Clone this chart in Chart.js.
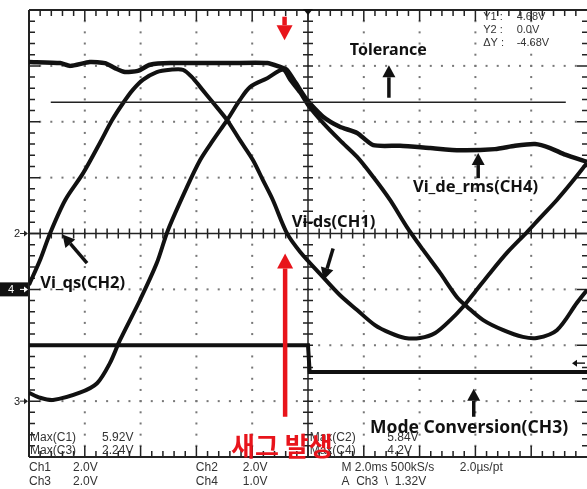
<!DOCTYPE html>
<html>
<head>
<meta charset="utf-8">
<script src="https://cdn.jsdelivr.net/npm/chart.js@4/dist/chart.umd.min.js"></script>
<style>
  html, body { margin: 0; padding: 0; background: #fff; }
  canvas { display: block; }
</style>
</head>
<body>
<canvas id="scope" width="587" height="489"></canvas>
<script>
/* Scope capture: traces in screen divisions (x 0..10, y 0..8, bottom = 0) */

const viQs = [ // CH2
  [0, 3.08], [0.2, 3.53], [0.38, 4.01], [0.65, 4.6], [0.97, 5.08], [1.27, 5.62],
  [1.49, 6.03], [1.69, 6.34], [1.86, 6.57], [2.04, 6.75], [2.29, 6.89], [2.53, 6.93],
  [2.76, 6.93], [2.92, 6.8], [3.07, 6.62], [3.3, 6.34], [3.55, 6.03], [3.78, 5.67],
  [4.01, 5.32], [4.19, 4.96], [4.37, 4.6], [4.62, 4.01], [4.86, 3.67], [5.27, 3.22],
  [5.57, 2.9], [5.88, 2.63], [6.2, 2.36], [6.47, 2.22], [6.74, 2.13], [7.01, 2.13],
  [7.28, 2.22], [7.55, 2.45], [7.78, 2.69], [7.99, 2.95], [8.26, 3.29], [8.58, 3.67],
  [8.93, 4.03], [9.16, 4.28], [9.46, 4.6], [9.73, 4.92], [10, 5.26],
];

const viDs = [ // CH1
  [0, 1.15], [0.2, 1.06], [0.43, 1.02], [0.91, 1.15], [1.22, 1.32], [1.45, 1.68],
  [1.63, 2.09], [1.99, 2.81], [2.29, 3.47], [2.49, 4.06], [2.83, 4.83], [3.07, 5.32],
  [3.3, 5.67], [3.55, 6.03], [3.78, 6.39], [3.96, 6.62], [4.27, 6.78], [4.55, 6.93],
  [4.68, 6.75], [4.86, 6.52], [5.0, 6.3], [5.27, 5.98], [5.57, 5.67], [5.88, 5.37],
  [6.17, 5.01], [6.47, 4.6], [6.77, 4.12], [7.06, 3.71], [7.37, 3.29], [7.67, 2.86],
  [7.85, 2.69], [8.14, 2.45], [8.5, 2.27], [8.85, 2.15], [9.1, 2.13], [9.46, 2.27],
  [9.82, 2.76], [10, 2.99],
];

const viDeRms = [ // CH4
  [0, 7.07], [0.56, 7.05], [0.74, 7.0], [1.09, 7.07], [1.36, 7.05], [1.54, 6.96],
  [1.72, 6.89], [1.95, 6.91], [2.17, 7.02], [2.53, 7.05], [3.6, 7.05], [4.27, 7.05],
  [4.5, 6.98], [4.62, 6.93], [4.77, 6.71], [4.98, 6.39], [5.27, 6.09], [5.57, 5.91],
  [5.88, 5.8], [6.17, 5.58], [6.65, 5.57], [7.19, 5.53], [7.72, 5.49], [8.35, 5.51],
  [8.71, 5.57], [9.07, 5.6], [9.34, 5.53], [9.61, 5.41], [10, 5.28],
];

const modeConv = [ // CH3
  [0, 2.0], [5.0, 2.0], [5.03, 1.52], [10, 1.52],
];

const tolerance = [[0.39, 6.35], [9.62, 6.35]];

// ground markers on the left edge
const groundMarks = [
  { label: '2', y: 4 },
  { label: '4', y: 3, boxed: true },
  { label: '3', y: 1 },
];

// annotation texts (positions in divisions)
const notes = [
  { text: 'Tolerance', x: 5.75, y: 7.28, size: 16 },
  { text: 'Vi_de_rms(CH4)', x: 6.88, y: 4.83, size: 16.5 },
  { text: 'Vi-ds(CH1)', x: 4.71, y: 4.2, size: 16.5 },
  { text: 'Vi_qs(CH2)', x: 0.2, y: 3.1, size: 16.5 },
  { text: 'Mode Conversion(CH3)', x: 6.11, y: 0.52, size: 17.5 },
];

const arrows = [
  { from: [6.45, 6.43], to: [6.45, 7.01], color: '#111' },
  { from: [8.05, 4.99], to: [8.05, 5.44], color: '#111' },
  { from: [5.45, 3.73], to: [5.28, 3.17], color: '#111' },
  { from: [1.04, 3.47], to: [0.6, 3.98], color: '#111' },
  { from: [7.97, 0.72], to: [7.97, 1.22], color: '#111' },
  { from: [4.58, 7.88], to: [4.58, 7.46], color: '#e8141b', big: true },
  { from: [4.59, 0.72], to: [4.59, 3.64], color: '#e8141b', big: true },
];

const sagText = { text: '새그 발생', x: 3.62, y: 0.2 };

const cursorRows = [
  ['Y1 :', '4.68V'],
  ['Y2 :', '0.0V'],
  ['ΔY :', '-4.68V'],
];

const maxRows = [
  { x: 0.02, vx: 1.31, rows: [['Max(C1)', '5.92V'], ['Max(C3)', '2.24V']] },
  { x: 5.03, vx: 6.42, rows: [['Max(C2)', '5.84V'], ['Max(C4)', '4.2V']] },
];

const footer = [
  { x: 0.0, lines: ['Ch1', 'Ch3'] },
  { x: 0.79, lines: ['2.0V', '2.0V'] },
  { x: 2.99, lines: ['Ch2', 'Ch4'] },
  { x: 3.83, lines: ['2.0V', '1.0V'] },
  { x: 5.6, lines: ['M 2.0ms 500kS/s', 'A  Ch3  \\  1.32V'] },
  { x: 7.72, lines: ['2.0\u00b5s/pt', ''] },
];

function toXY(pts) {
  return pts.map(p => ({ x: p[0], y: p[1] }));
}

function drawArrow(ctx, x1, y1, x2, y2, color, big) {
  const ang = Math.atan2(y2 - y1, x2 - x1);
  const headLen = big ? 15 : 12;
  const headW = big ? 8 : 6.5;
  const bx = x2 - Math.cos(ang) * headLen;
  const by = y2 - Math.sin(ang) * headLen;
  ctx.save();
  ctx.strokeStyle = color;
  ctx.fillStyle = color;
  ctx.lineWidth = big ? 4.5 : 3.5;
  ctx.beginPath();
  ctx.moveTo(x1, y1);
  ctx.lineTo(bx, by);
  ctx.stroke();
  ctx.beginPath();
  ctx.moveTo(x2, y2);
  ctx.lineTo(bx + Math.sin(ang) * headW, by - Math.cos(ang) * headW);
  ctx.lineTo(bx - Math.sin(ang) * headW, by + Math.cos(ang) * headW);
  ctx.closePath();
  ctx.fill();
  ctx.restore();
}

const scopeGrid = {
  id: 'scopeGrid',
  beforeDatasetsDraw(chart) {
    const ctx = chart.ctx;
    const xs = chart.scales.x, ys = chart.scales.y;
    const { left, right, top, bottom } = chart.chartArea;
    ctx.save();

    // dotted division lines
    ctx.fillStyle = '#777';
    for (let i = 1; i < 10; i++) {
      if (i === 5) continue;
      const px = xs.getPixelForValue(i);
      for (let j = 1; j < 40; j++) {
        ctx.fillRect(px - 1, ys.getPixelForValue(j / 5) - 1, 2, 2);
      }
    }
    for (let i = 1; i < 8; i++) {
      if (i === 4) continue;
      const py = ys.getPixelForValue(i);
      for (let j = 1; j < 50; j++) {
        ctx.fillRect(xs.getPixelForValue(j / 5) - 1, py - 1, 2, 2);
      }
    }

    ctx.strokeStyle = '#222';
    // center cross
    const cx = xs.getPixelForValue(5), cy = ys.getPixelForValue(4);
    ctx.lineWidth = 1.5;
    ctx.beginPath();
    ctx.moveTo(cx, top); ctx.lineTo(cx, bottom);
    ctx.moveTo(left, cy); ctx.lineTo(right, cy);
    for (let j = 1; j < 50; j++) {
      const px = xs.getPixelForValue(j / 5);
      ctx.moveTo(px, cy - 5); ctx.lineTo(px, cy + 5);
    }
    for (let j = 1; j < 40; j++) {
      const py = ys.getPixelForValue(j / 5);
      ctx.moveTo(cx - 5, py); ctx.lineTo(cx + 5, py);
    }
    ctx.stroke();

    // frame with inward ticks
    ctx.lineWidth = 2;
    ctx.beginPath();
    ctx.moveTo(left, top); ctx.lineTo(right, top);
    ctx.moveTo(left, top); ctx.lineTo(left, bottom);
    ctx.moveTo(left, bottom); ctx.lineTo(right, bottom);
    ctx.stroke();
    ctx.lineWidth = 1.5;
    ctx.beginPath();
    for (let j = 1; j < 50; j++) {
      const px = xs.getPixelForValue(j / 5);
      const len = j % 5 === 0 ? 11 : 6;
      ctx.moveTo(px, top); ctx.lineTo(px, top + len);
      ctx.moveTo(px, bottom); ctx.lineTo(px, bottom - len);
    }
    for (let j = 1; j < 40; j++) {
      const py = ys.getPixelForValue(j / 5);
      const len = j % 5 === 0 ? 11 : 6;
      ctx.moveTo(left, py); ctx.lineTo(left + len, py);
      ctx.moveTo(right + 1, py); ctx.lineTo(right + 1 - len, py);
    }
    ctx.stroke();

    // trigger marker at top centre
    ctx.fillStyle = '#111';
    ctx.beginPath();
    ctx.moveTo(cx - 5, top - 1); ctx.lineTo(cx + 5, top - 1); ctx.lineTo(cx, top + 5);
    ctx.closePath();
    ctx.fill();

    // trigger level marker on right edge
    const ty = ys.getPixelForValue(1.68);
    ctx.lineWidth = 1.5;
    ctx.beginPath();
    ctx.moveTo(right - 2, ty); ctx.lineTo(right - 13, ty);
    ctx.stroke();
    ctx.beginPath();
    ctx.moveTo(right - 15, ty); ctx.lineTo(right - 10, ty - 3.5); ctx.lineTo(right - 10, ty + 3.5);
    ctx.closePath();
    ctx.fill();

    // channel ground markers
    ctx.font = '11px "Liberation Sans"';
    ctx.textBaseline = 'middle';
    groundMarks.forEach(m => {
      const py = ys.getPixelForValue(m.y);
      if (m.boxed) {
        ctx.fillStyle = '#111';
        ctx.fillRect(0, py - 7, left - 1, 14);
        ctx.fillStyle = '#fff';
        ctx.fillText(m.label, 8, py + 0.5);
        ctx.strokeStyle = '#fff';
      } else {
        ctx.fillStyle = '#222';
        ctx.fillText(m.label, 14, py + 0.5);
        ctx.strokeStyle = '#222';
      }
      ctx.lineWidth = 1;
      ctx.beginPath();
      ctx.moveTo(20, py); ctx.lineTo(left - 2, py);
      ctx.stroke();
      ctx.beginPath();
      ctx.moveTo(left - 1, py); ctx.lineTo(left - 5, py - 3); ctx.lineTo(left - 5, py + 3);
      ctx.closePath();
      ctx.fillStyle = m.boxed ? '#fff' : '#222';
      ctx.fill();
    });
    ctx.restore();
  },
};

const scopeText = {
  id: 'scopeText',
  afterDatasetsDraw(chart) {
    const ctx = chart.ctx;
    const xs = chart.scales.x, ys = chart.scales.y;
    const { bottom } = chart.chartArea;
    const X = v => xs.getPixelForValue(v);
    const Y = v => ys.getPixelForValue(v);
    ctx.save();
    ctx.textBaseline = 'middle';
    ctx.textAlign = 'left';

    // scope readouts
    ctx.fillStyle = '#333';
    ctx.font = '11px "Liberation Sans"';
    cursorRows.forEach((r, i) => {
      const py = 17 + i * 13;
      ctx.fillText(r[0], X(8.14), py);
      ctx.fillText(r[1], X(8.74), py);
    });
    ctx.font = '12px "Liberation Sans"';
    maxRows.forEach(g => {
      g.rows.forEach((r, i) => {
        const py = Y(0.34) + i * 13;
        ctx.fillText(r[0], X(g.x), py);
        ctx.fillText(r[1], X(g.vx), py);
      });
    });
    footer.forEach(f => {
      f.lines.forEach((t, i) => ctx.fillText(t, X(f.x), bottom + 11 + i * 14));
    });

    // annotations
    ctx.fillStyle = '#111';
    notes.forEach(n => {
      ctx.font = `bold ${n.size}px "Noto Sans"`;
      ctx.fillText(n.text, X(n.x), Y(n.y));
    });
    arrows.forEach(a => drawArrow(ctx, X(a.from[0]), Y(a.from[1]), X(a.to[0]), Y(a.to[1]), a.color, a.big));

    ctx.fillStyle = '#e8141b';
    ctx.font = 'bold 26px "Noto Sans CJK KR"';
    ctx.fillText(sagText.text, X(sagText.x), Y(sagText.y));
    ctx.restore();
  },
};

const traceStyle = {
  showLine: true,
  borderColor: '#111',
  borderWidth: 4,
  pointRadius: 0,
  tension: 0.3,
  fill: false,
};

new Chart(document.getElementById('scope'), {
  type: 'scatter',
  data: {
    datasets: [
      { ...traceStyle, label: 'Tolerance', data: toXY(tolerance), borderWidth: 1.5, borderColor: '#222', tension: 0 },
      { ...traceStyle, label: 'Vi_qs(CH2)', data: toXY(viQs) },
      { ...traceStyle, label: 'Vi-ds(CH1)', data: toXY(viDs) },
      { ...traceStyle, label: 'Vi_de_rms(CH4)', data: toXY(viDeRms), borderWidth: 4.5, tension: 0.2 },
      { ...traceStyle, label: 'Mode Conversion(CH3)', data: toXY(modeConv), tension: 0 },
    ],
  },
  options: {
    responsive: false,
    animation: false,
    layout: { padding: { left: 29, right: 0, top: 10, bottom: 32 } },
    scales: {
      x: { type: 'linear', min: 0, max: 10, display: false },
      y: { type: 'linear', min: 0, max: 8, display: false },
    },
    plugins: { legend: { display: false }, tooltip: { enabled: false } },
  },
  plugins: [scopeGrid, scopeText],
});
</script>
</body>
</html>
